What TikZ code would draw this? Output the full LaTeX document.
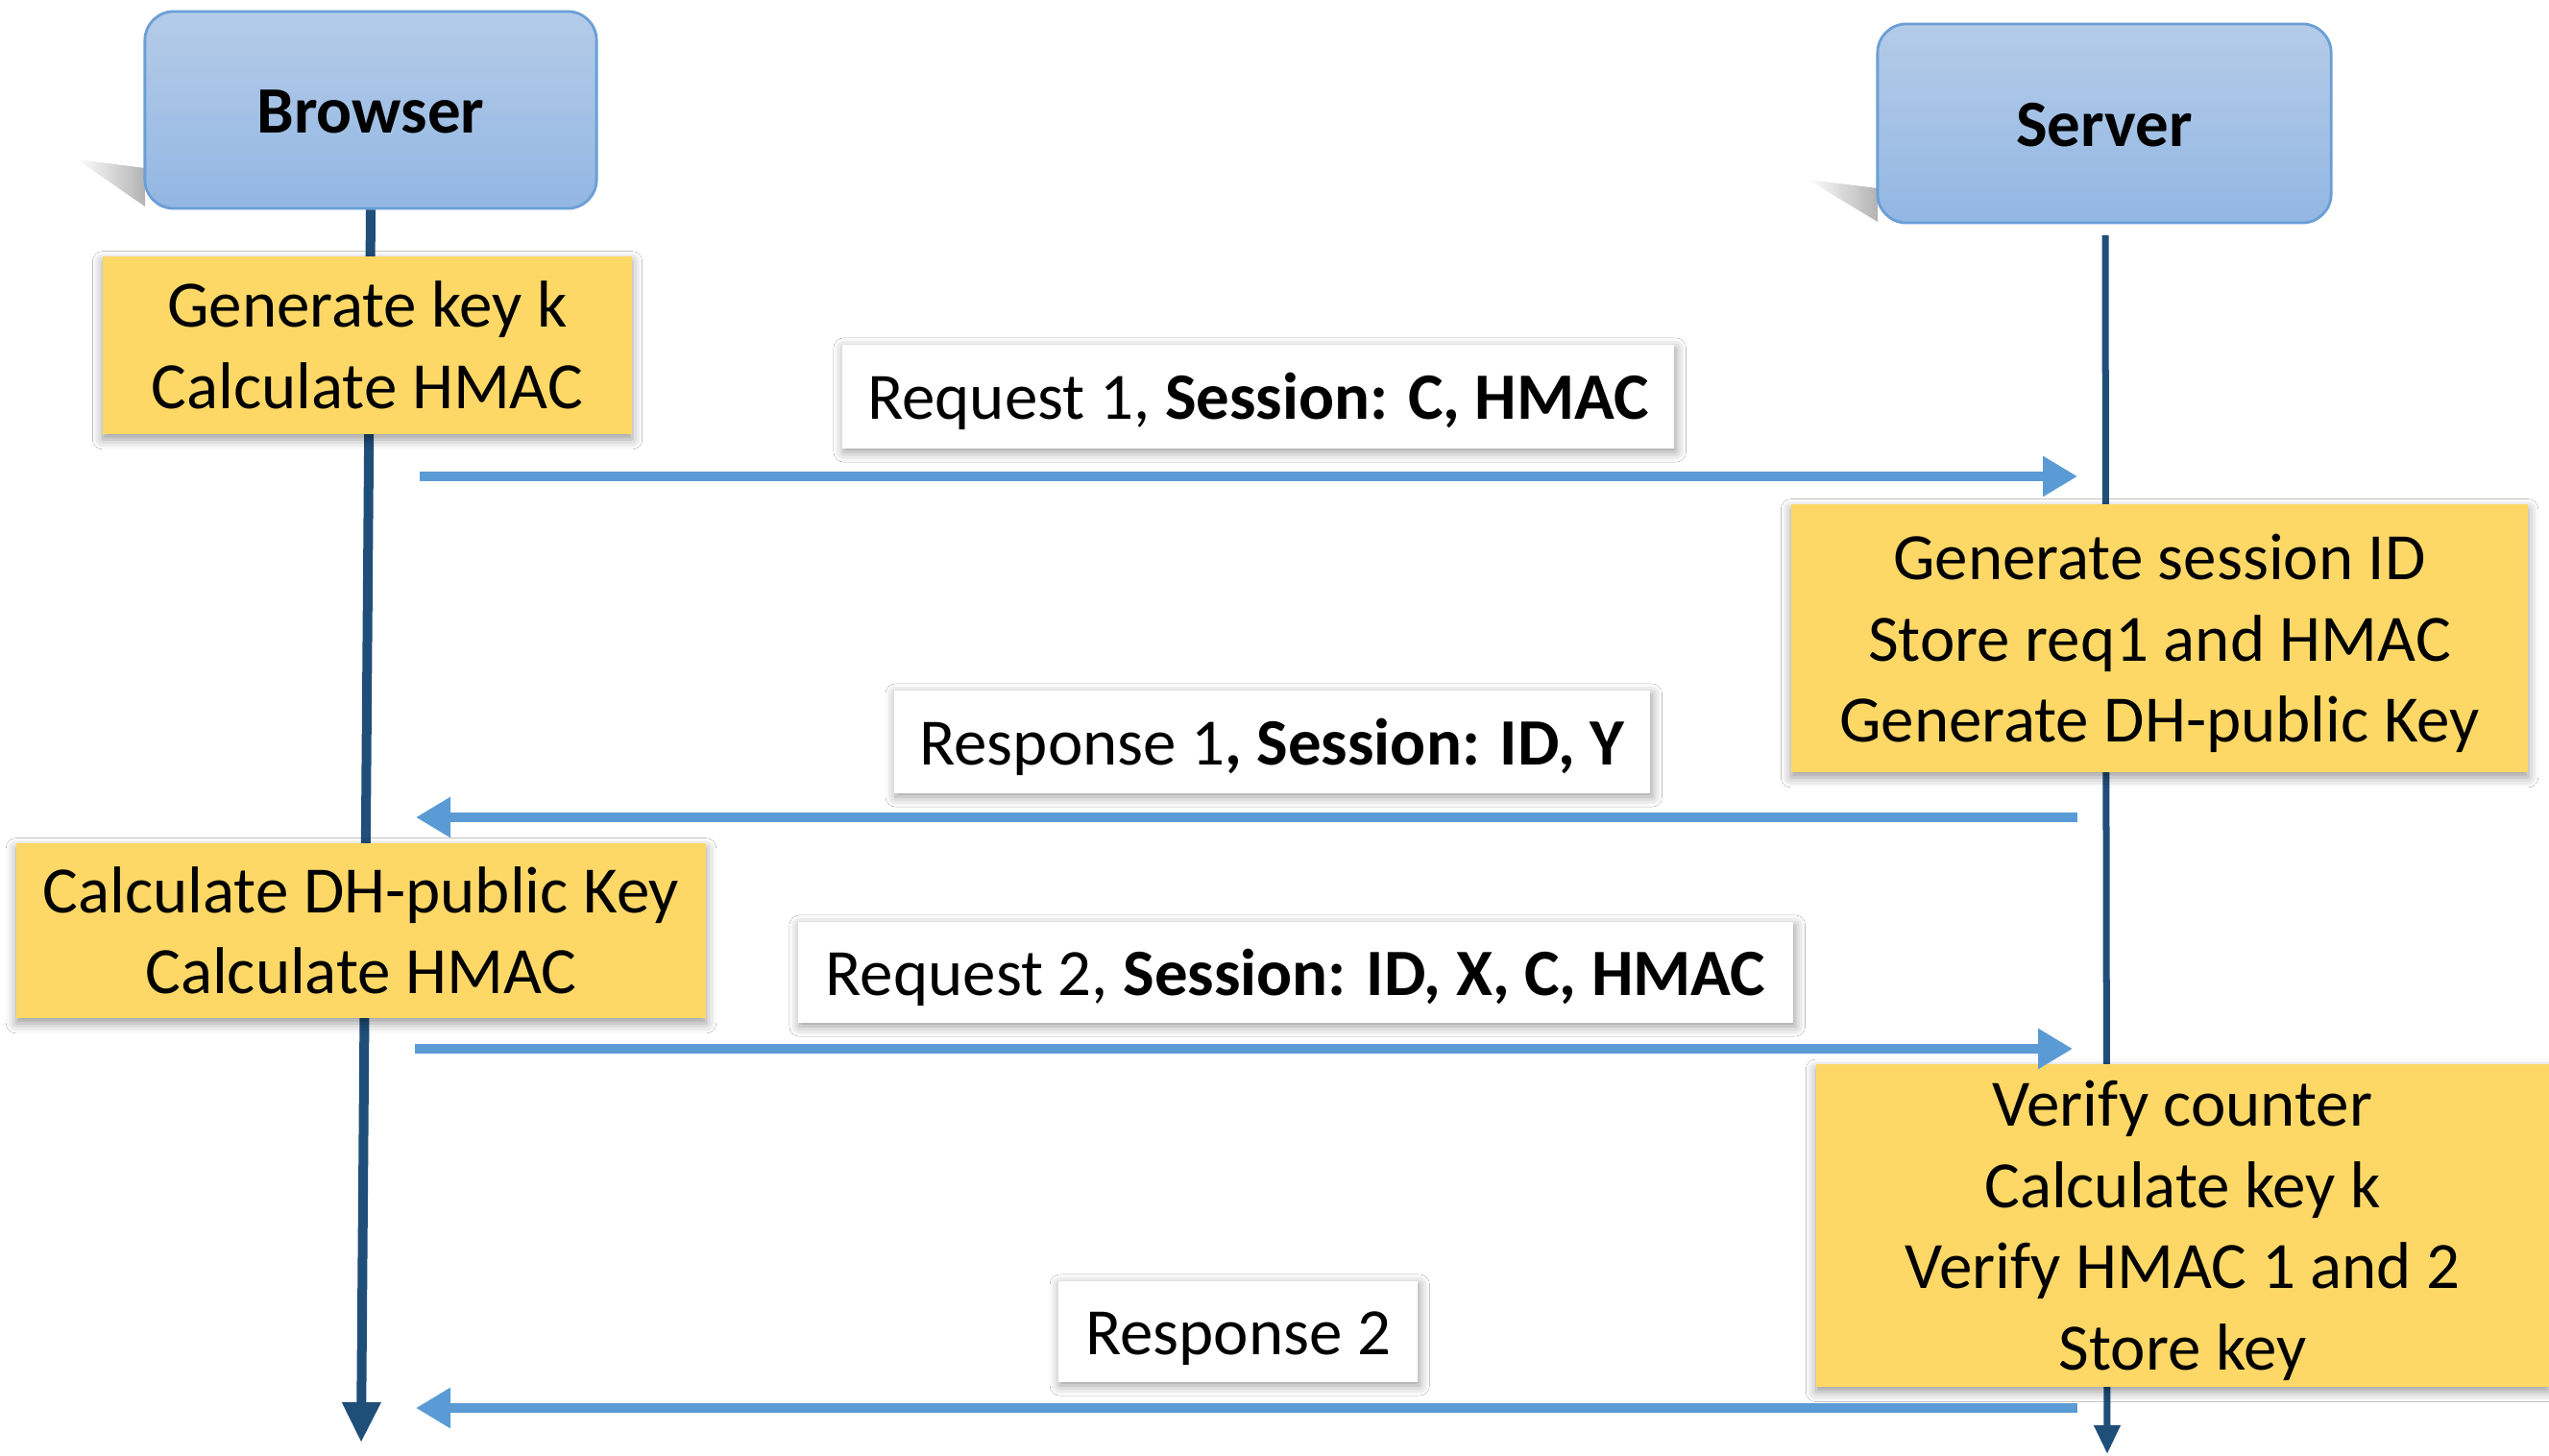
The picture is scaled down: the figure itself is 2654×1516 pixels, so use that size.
\documentclass[tikz,border=0pt]{standalone}
\usepackage{fontspec}
\setmainfont{Carlito}
\usetikzlibrary{shadows.blur,arrows.meta}
\definecolor{goldbox}{HTML}{FDD866}
\definecolor{msgblue}{HTML}{5B9BD5}
\definecolor{lifeblue}{HTML}{1F4E79}
\definecolor{hdtop}{HTML}{B5CBE8}
\definecolor{hdbot}{HTML}{92B7E3}
\definecolor{hdline}{HTML}{6A9FD6}
\newcommand\mytopstrut{\rule{0pt}{18.4pt}}
\newcommand\mybotstrut{\rule[-5pt]{0pt}{5pt}}
\tikzset{
  txt/.style={font=\fontsize{19.6}{24}\selectfont, align=center, text=black},
  header/.style={txt, font=\fontsize{19.6}{24}\selectfont\bfseries, rounded corners=0.3cm,
    top color=hdtop, bottom color=hdbot, draw=hdline, line width=0.8pt},
  actbox/.style={txt, fill=goldbox, inner sep=0pt,
    blur shadow={shadow xshift=0pt, shadow yshift=-1.5pt, shadow blur radius=3pt, shadow opacity=40}},
  msglabel/.style={txt, fill=white, inner sep=0pt,
    blur shadow={shadow xshift=0.5pt, shadow yshift=-1pt, shadow blur radius=3pt, shadow opacity=40}},
  lifeline/.style={draw=lifeblue, line width=0.1cm},
  msg/.style={draw=msgblue, line width=0.1cm, -{Triangle[length=0.36cm,width=0.40cm]}}
}
\begin{document}
\begin{tikzpicture}[x=0.01cm,y=-0.01cm]
\useasboundingbox (0,0) rectangle (2654,1516);
\fill[white] (0,0) rectangle (2654,1516);
% perspective shadows of the header boxes
\shade[left color=white, right color=gray!60] (80,166) -- (151,175) -- (151,215) -- cycle;
\shade[left color=white, right color=gray!60] (1882,187) -- (1955,196) -- (1955,231) -- cycle;
% header boxes
\node[header, minimum width=4.70cm, minimum height=2.05cm] (browser) at (386,114.5) {\mytopstrut Browser\mybotstrut};
\node[header, minimum width=4.72cm, minimum height=2.07cm] (server) at (2191,128.5) {\mytopstrut Server\mybotstrut};
% lifelines
\coordinate (bEnd) at (376,1502);
\coordinate (sTop) at (2192,245);
\coordinate (sEnd) at (2194,1514);
\draw[lifeline, -{Triangle[length=0.42cm,width=0.38cm]}] (browser.south) -- (bEnd);
\draw[lifeline, line width=0.07cm, -{Triangle[length=0.30cm,width=0.26cm]}] (sTop) -- (sEnd);
% activity boxes
\node[actbox, minimum width=5.51cm, minimum height=1.85cm] (act1) at (382.5,359.5) {\mytopstrut Generate key k\\Calculate HMAC\mybotstrut};
\node[actbox, minimum width=7.67cm, minimum height=2.79cm] (act2) at (2248.5,664.5) {\mytopstrut Generate session ID\\Store req1 and HMAC\\Generate DH-public Key\mybotstrut};
\node[actbox, minimum width=7.18cm, minimum height=1.82cm] (act3) at (376,969) {\mytopstrut Calculate DH-public Key\\Calculate HMAC\mybotstrut};
\node[actbox, minimum width=7.63cm, minimum height=3.28cm] (act4) at (2272.5,1276) {\mytopstrut Verify counter\\Calculate key k\\Verify HMAC 1 and 2\\Store key\mybotstrut};
% message labels
\node[msglabel, minimum width=8.66cm, minimum height=1.08cm] (lab1) at (1310,413) {\mytopstrut Request 1, \textbf{Session: C, HMAC}\mybotstrut};
\node[msglabel, minimum width=7.87cm, minimum height=1.07cm] (lab2) at (1324.5,772.5) {\mytopstrut Response 1\textbf{, Session: ID, Y}\mybotstrut};
\node[msglabel, minimum width=10.36cm, minimum height=1.05cm] (lab3) at (1349,1012.5) {\mytopstrut Request 2, \textbf{Session: ID, X, C, HMAC}\mybotstrut};
\node[msglabel, minimum width=3.74cm, minimum height=1.05cm] (lab4) at (1289,1386.5) {\mytopstrut Response 2\mybotstrut};
% message arrows
\coordinate (b1) at (437,496);   \coordinate (s1) at (2163,496);
\coordinate (s2) at (2163,851);  \coordinate (b2) at (433,851);
\coordinate (b3) at (432,1092);  \coordinate (s3) at (2158,1092);
\coordinate (s4) at (2163,1466); \coordinate (b4) at (433,1466);
\draw[msg] (b1) -- (s1);
\draw[msg] (s2) -- (b2);
\draw[msg] (b3) -- (s3);
\draw[msg] (s4) -- (b4);
\end{tikzpicture}
\end{document}
